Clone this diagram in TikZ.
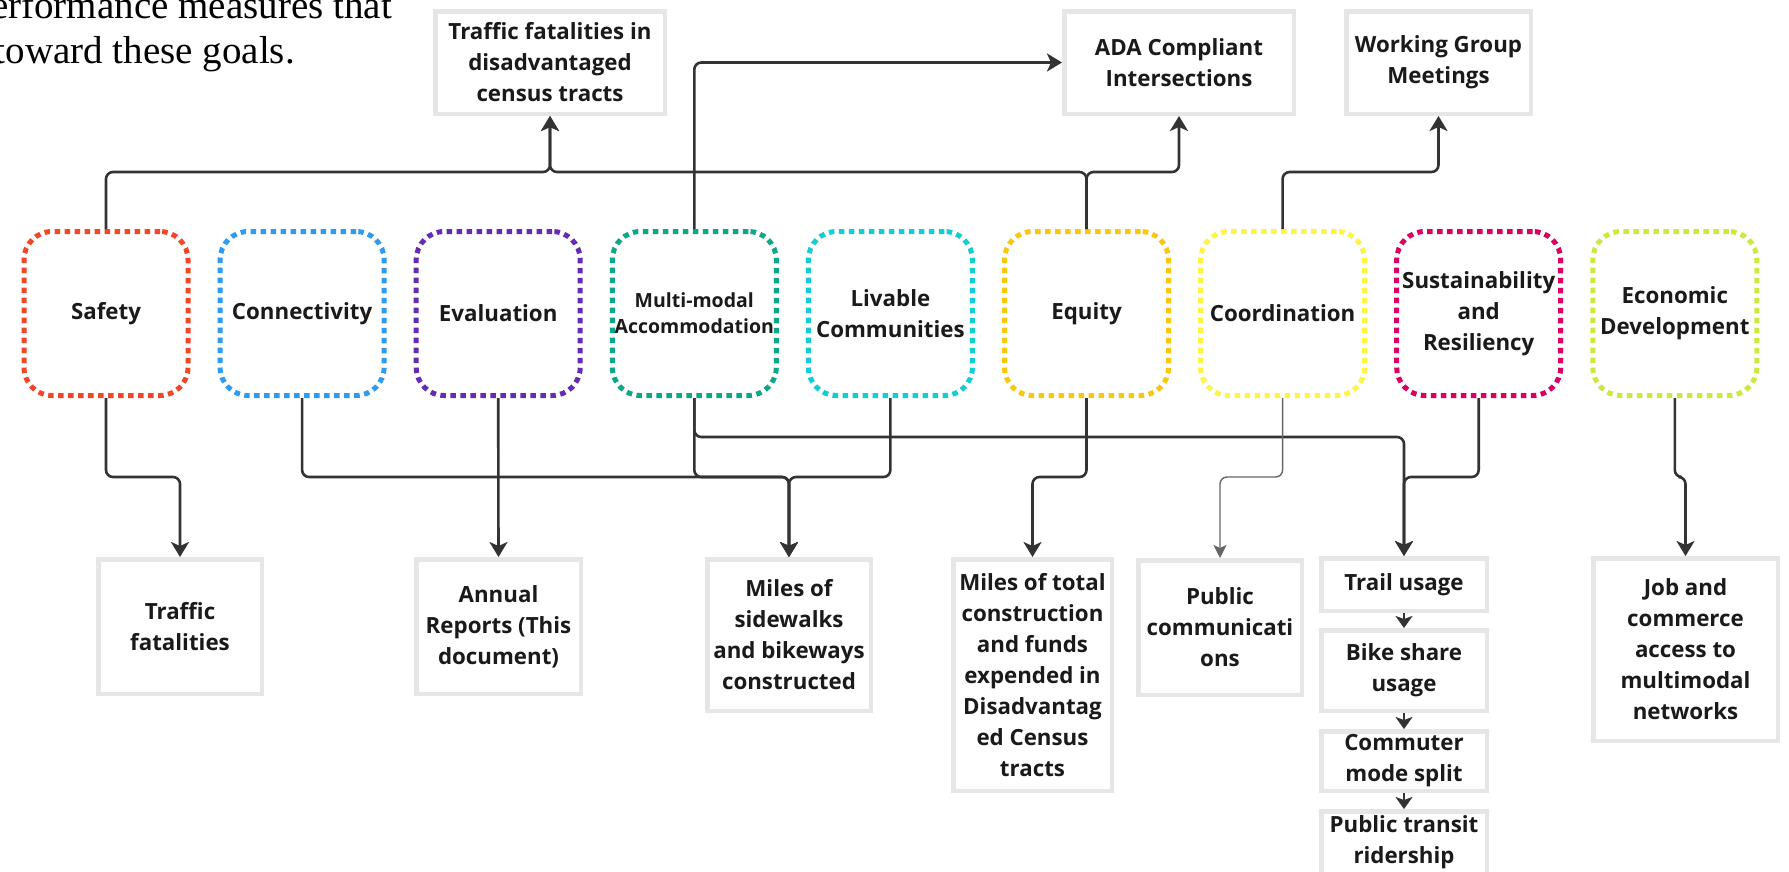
\documentclass[tikz,border=0pt]{standalone}
\usepackage{fontspec}
\setmainfont{Open Sans}
\newfontfamily\introfont{Liberation Serif}
\usetikzlibrary{arrows.meta}

\definecolor{safetyred}{HTML}{F24726}
\definecolor{connblue}{HTML}{2D9BF0}
\definecolor{evalpurple}{HTML}{652CB3}
\definecolor{multigreen}{HTML}{0CA789}
\definecolor{livecyan}{HTML}{12CDD4}
\definecolor{equityorange}{HTML}{FAC710}
\definecolor{coordyellow}{HTML}{FEF445}
\definecolor{sustainpink}{HTML}{DA0063}
\definecolor{econlime}{HTML}{CEE741}
\definecolor{boxgray}{HTML}{E6E6E6}
\definecolor{linegray}{HTML}{333333}
\definecolor{inkgray}{HTML}{1A1A1A}

\newcommand{\goalfont}{\bfseries\fontsize{22.3}{31}\selectfont}

\tikzset{
	goal/.style={draw=#1, line width=5pt, dash pattern=on 5.5pt off 4.5pt,
		rounded corners=28pt, minimum width=164pt, minimum height=164pt,
		inner sep=0pt, align=center, text=inkgray, font=\goalfont},
	measure/.style={draw=boxgray, fill=white, line width=4.5pt, inner sep=0pt,
		align=center, text=inkgray, font=\goalfont},
	conn/.style={draw=linegray, line width=2.6pt, rounded corners=7pt,
		-{Stealth[length=15pt,width=18pt,inset=4pt]}},
	thinconn/.style={draw=linegray!75, line width=1.4pt, rounded corners=7pt,
		-{Stealth[length=13pt,width=13pt,inset=3pt]}},
	chain/.style={draw=linegray, line width=2.6pt,
		-{Stealth[length=12pt,width=17pt,inset=3pt]}},
	intro/.style={font=\introfont\fontsize{39}{45}\selectfont, text=black, inner sep=0pt}
}

\begin{document}
\begin{tikzpicture}[x=1pt,y=-1pt]
	\def\goalY{313.5};
	\def\topH{102.5};
\useasboundingbox (0,0) rectangle (1789,871);
\clip (0,0) rectangle (1789,871);
\fill[white] (0,0) rectangle (1789,871);

%Bus levels
\coordinate (topbus) at (0,172);
\coordinate (midbus) at (0,437);
\coordinate (lowbus) at (0,477);

%Intro text
\node[intro, anchor=base east] (introtop) at (392,18) {performance measures that};
\node[intro, anchor=base east] (introbot) at (295,63) {toward these goals.};

%Goals
\node[goal=safetyred] (safety) at (106,\goalY) {Safety};
\node[goal=connblue] (connect) at (302.1,\goalY) {Connectivity};
\node[goal=evalpurple] (evaluate) at (498.2,\goalY) {Evaluation};
\node[goal=multigreen, font=\bfseries\fontsize{19.5}{26}\selectfont] (multi) at (694.3,\goalY) {Multi-modal\\Accommodation};
\node[goal=livecyan] (livable) at (890.4,\goalY) {Livable\\Communities};
\node[goal=equityorange] (equity) at (1086.5,\goalY) {Equity};
\node[goal=coordyellow] (coord) at (1282.6,\goalY) {Coordination};
\node[goal=sustainpink] (sustain) at (1478.7,\goalY) {Sustainability\\and\\Resiliency};
\node[goal=econlime] (econ) at (1674.8,\goalY) {Economic\\Development};

%Measures above
\node[measure, minimum width=229.5pt, minimum height=\topH] (tractfat) at (550,62.5) {Traffic fatalities in\\disadvantaged\\census tracts};
\node[measure, minimum width=229.5pt, minimum height=\topH] (ada) at (1179,62.5) {ADA Compliant\\Intersections};
\node[measure, minimum width=184.5pt, minimum height=\topH] (wgroup) at (1438.5,62.5) {Working Group\\Meetings};

%Measures below
\node[measure, minimum width=163.5pt, minimum height=134.5pt] (fatal) at (180,626.5) {Traffic\\fatalities};
\node[measure, minimum width=164.5pt, minimum height=134.5pt] (annual) at (498.5,626.5) {Annual\\Reports (This\\document)};
\node[measure, minimum width=163.5pt, minimum height=151.5pt] (sidewalk) at (789,635) {Miles of\\sidewalks\\and bikeways\\constructed};
\node[measure, minimum width=158.5pt, minimum height=231.5pt] (milestot) at (1032.5,675) {Miles of total\\construction\\and funds\\expended in\\Disadvantag\\ed Census\\tracts};
\node[measure, minimum width=163.5pt, minimum height=134.5pt] (pubcom) at (1220,627.5) {Public\\communicati\\ons};
\node[measure, minimum width=165.5pt, minimum height=52.5pt] (trail) at (1404,584.5) {Trail usage};
\node[measure, minimum width=165.5pt, minimum height=80.5pt] (bike) at (1404,670.5) {Bike share\\usage};
\node[measure, minimum width=165.5pt, minimum height=59.5pt] (commute) at (1404,761) {Commuter\\mode split};
\node[measure, minimum width=165.5pt, minimum height=62.5pt] (transit) at (1404,842.5) {Public transit\\ridership};
\node[measure, minimum width=184.5pt, minimum height=182.5pt] (jobs) at (1685.5,649.5) {Job and\\commerce\\access to\\multimodal\\networks};

%Links up
\draw[conn] (safety.north) |- (tractfat.south |- topbus) -- (tractfat.south);
\draw[conn] (equity.north) |- (tractfat.south |- topbus) -- (tractfat.south);
\draw[conn] (equity.north) |- (ada.south |- topbus) -- (ada.south);
\draw[conn] (multi.north) |- (ada.west);
\draw[conn] (coord.north) |- (wgroup.south |- topbus) -- (wgroup.south);

%Links down
\draw[conn] (safety.south) |- (fatal.north |- lowbus) -- (fatal.north);
\draw[conn] (connect.south) |- (sidewalk.north |- lowbus) -- (sidewalk.north);
\draw[conn] (multi.south) |- (sidewalk.north |- lowbus) -- (sidewalk.north);
\draw[conn] (livable.south) |- (sidewalk.north |- lowbus) -- (sidewalk.north);
\draw[conn] (evaluate.south) -- (annual.north);
\draw[conn] (multi.south) |- (trail.north |- midbus) -- (trail.north);
\draw[conn] (equity.south) |- (milestot.north |- lowbus) -- (milestot.north);
\draw[thinconn] (coord.south) |- (pubcom.north |- lowbus) -- (pubcom.north);
\draw[conn] (sustain.south) |- (trail.north |- lowbus) -- (trail.north);
\draw[conn] (econ.south) |- (jobs.north |- lowbus) -- (jobs.north);

%Chain of usage
\draw[chain] (trail.south) -- (bike.north);
\draw[chain] (bike.south) -- (commute.north);
\draw[chain] (commute.south) -- (transit.north);

\end{tikzpicture}
\end{document}
